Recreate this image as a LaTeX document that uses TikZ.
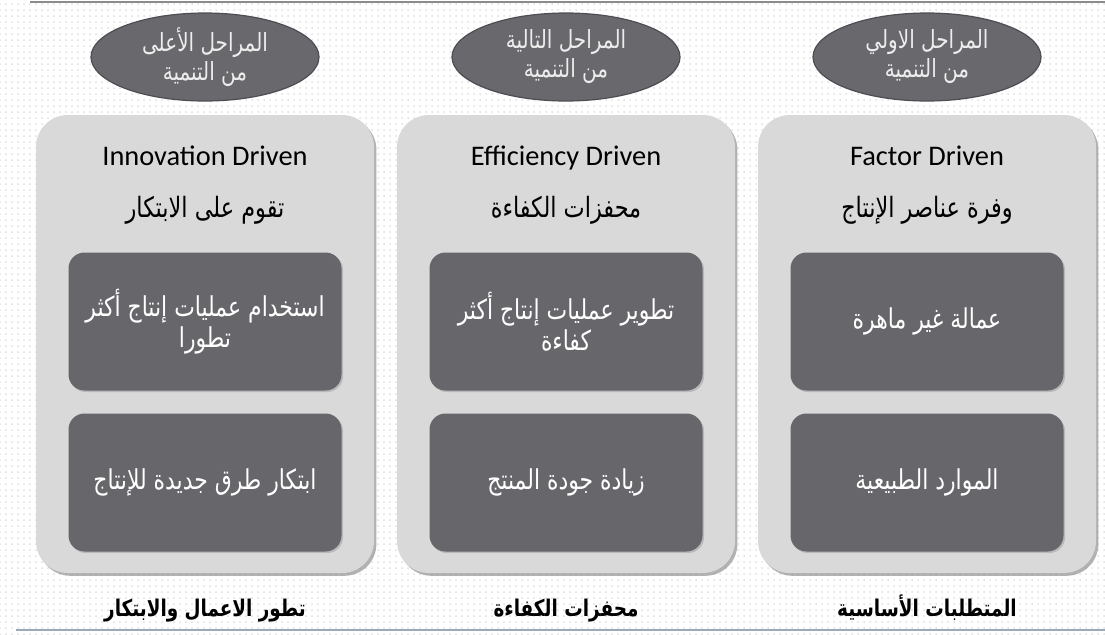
\documentclass[tikz,border=0pt]{standalone}
\usepackage{fontspec}
\setmainfont{Carlito}
\newfontfamily\arabicfont[Script=Arabic,FakeStretch=0.8]{DejaVu Sans}
\TeXXeTstate=1
\usetikzlibrary{positioning,shapes.geometric,shadows,patterns}
\definecolor{ovalgray}{HTML}{69686D}
\definecolor{ovalline}{HTML}{4E4D54}
\definecolor{panelgray}{HTML}{D9D9D9}
\definecolor{itemgray}{HTML}{67666B}
\definecolor{ruletop}{HTML}{8C8C8C}
\definecolor{rulebottom}{HTML}{9AAAB8}
\newcommand{\ar}[1]{\arabicfont\beginR #1\endR}

\begin{document}
\begin{tikzpicture}[node distance=180.5pt, on grid,
    stage/.style={ellipse, draw=ovalline, line width=0.6pt, fill=ovalgray, text=white!93!black,
      minimum width=114pt, minimum height=44pt, inner sep=0pt, align=center,
      font=\fontsize{12.5}{14.5}\selectfont},
    panel/.style={fill=panelgray, rounded corners=16pt, minimum width=169pt, minimum height=229pt,
      drop shadow={shadow xshift=1.2pt, shadow yshift=-1.4pt, opacity=0.6}},
    title/.style={font=\fontsize{14.2}{17}\selectfont, text height=10pt, text depth=3pt},
    subtitle/.style={font=\fontsize{14}{16}\selectfont, text height=11pt, text depth=4pt},
    item/.style={fill=itemgray, text=white, rounded corners=8pt, minimum width=136.5pt,
      minimum height=69pt, align=center, font=\fontsize{13.7}{15.5}\selectfont,
      drop shadow={shadow xshift=0.8pt, shadow yshift=-0.8pt, opacity=0.35}},
    footer/.style={font=\bfseries\fontsize{11.5}{14}\selectfont, text height=9pt, text depth=3pt}]
\useasboundingbox (0,0) rectangle (552.5pt,-317pt);
\fill[white] (0,0) rectangle (552.5pt,-317pt);
\fill[pattern=dots, pattern color=gray!25] (0,0) rectangle (552.5pt,-317pt);
\draw[ruletop, line width=1pt] (15pt,-1pt) -- (552.5pt,-1pt);
\draw[rulebottom, line width=1pt] (8pt,-315pt) -- (552.5pt,-315pt);

\node[panel] (factor) at (463.5pt,-172pt) {};
\node[panel, left=of factor] (eff) {};
\node[panel, left=of eff] (innov) {};

\node[stage, above=143.5pt of factor] (sF) {\ar{المراحل الاولي}\\\ar{من التنمية}};
\node[stage, above=143.5pt of eff] (sE) {\ar{المراحل التالية}\\\ar{من التنمية}};
\node[stage, above=143.5pt of innov] (sI) {\ar{المراحل الأعلى}\\\ar{من التنمية}};

\node[title, above=93pt of factor] (tF) {Factor Driven};
\node[title, above=93pt of eff] (tE) {Efficiency Driven};
\node[title, above=93pt of innov] (tI) {Innovation Driven};

\node[subtitle, below=26pt of tF] (aF) {\ar{وفرة عناصر الإنتاج}};
\node[subtitle, below=26pt of tE] (aE) {\ar{محفزات الكفاءة}};
\node[subtitle, below=26pt of tI] (aI) {\ar{تقوم على الابتكار}};

\node[item, above=11.25pt of factor] (f1) {\ar{عمالة غير ماهرة}};
\node[item, below=80.5pt of f1] (f2) {\ar{الموارد الطبيعية}};
\node[item, above=11.25pt of eff] (e1) {\ar{تطوير عمليات إنتاج أكثر}\\\ar{كفاءة}};
\node[item, below=80.5pt of e1] (e2) {\ar{زيادة جودة المنتج}};
\node[item, above=11.25pt of innov] (i1) {\ar{استخدام عمليات إنتاج أكثر}\\\ar{تطورا}};
\node[item, below=80.5pt of i1] (i2) {\ar{ابتكار طرق جديدة للإنتاج}};

\node[footer, below=133pt of factor] (bF) {\ar{المتطلبات الأساسية}};
\node[footer, below=133pt of eff] (bE) {\ar{محفزات الكفاءة}};
\node[footer, below=133pt of innov] (bI) {\ar{تطور الاعمال والابتكار}};
\end{tikzpicture}
\end{document}
